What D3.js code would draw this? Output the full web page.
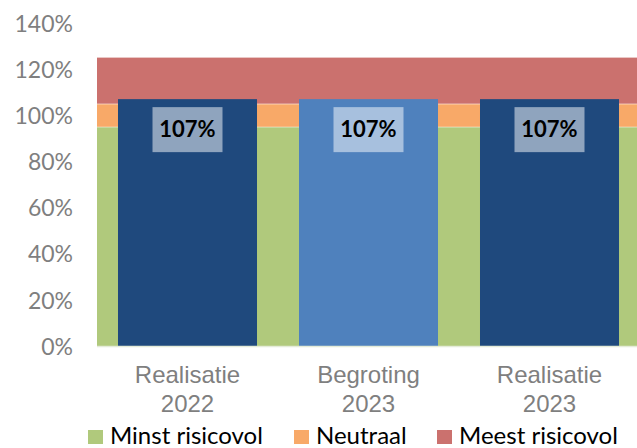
<!DOCTYPE html>
<html>
<head>
<meta charset="utf-8">
<script src="https://cdn.jsdelivr.net/npm/d3@7"></script>
<style>
  html, body { margin: 0; padding: 0; background: #fff; }
  svg { display: block; font-family: Lato, "Open Sans", sans-serif; }
</style>
</head>
<body>
<svg id="chart" width="637" height="448"></svg>
<script>
// Categories along the x axis (two-line labels)
const categories = ["Realisatie 2022", "Begroting 2023", "Realisatie 2023"];
const categoryLines = [["Realisatie", "2022"], ["Begroting", "2023"], ["Realisatie", "2023"]];

// Coverage ratio per category (%)
const ratioValues = [107, 107, 107];
const barColors = ["#1F497D", "#4F81BD", "#1F497D"];

// Background risk zones, stacked from 0% upward (band sizes in %)
const zoneNames = ["Minst risicovol", "Neutraal", "Meest risicovol"];
const zoneSizes = [95, 10, 20];
const zoneColors = ["#B0C97C", "#F8A968", "#CB716E"];

// Y axis ticks
const yTicks = [0, 20, 40, 60, 80, 100, 120, 140];

const svg = d3.select("#chart");
const plotLeft = 97, plotRight = 640, plotTop = 23, plotBottom = 346;

const x = d3.scaleBand()
  .domain(categories)
  .range([plotLeft, plotRight])
  .paddingInner(0.232)
  .paddingOuter(0.116);

const y = d3.scaleLinear().domain([0, 140]).range([plotBottom, plotTop]);

// Stacked zone bands spanning the whole plot width
const zoneRow = {};
zoneNames.forEach((n, i) => zoneRow[n] = zoneSizes[i]);
const stacked = d3.stack().keys(zoneNames)([zoneRow]);

svg.append("g")
  .selectAll("rect")
  .data(stacked)
  .join("rect")
  .attr("x", plotLeft)
  .attr("width", plotRight - plotLeft)
  .attr("y", d => y(d[0][1]))
  .attr("height", d => y(d[0][0]) - y(d[0][1]))
  .attr("fill", (d, i) => zoneColors[i]);

// Light separators between zones
svg.append("g")
  .selectAll("line")
  .data(stacked.slice(0, 2))
  .join("line")
  .attr("x1", plotLeft).attr("x2", plotRight)
  .attr("y1", d => y(d[0][1]) + 0.5).attr("y2", d => y(d[0][1]) + 0.5)
  .attr("stroke", "#ffffff").attr("stroke-opacity", 0.35);

// Ratio bars
svg.append("g")
  .selectAll("rect")
  .data(ratioValues)
  .join("rect")
  .attr("x", (d, i) => x(categories[i]))
  .attr("width", x.bandwidth())
  .attr("y", d => y(d))
  .attr("height", d => y(0) - y(d))
  .attr("fill", (d, i) => barColors[i]);

// Baseline
svg.append("line")
  .attr("x1", plotLeft).attr("x2", plotRight)
  .attr("y1", y(0) + 0.5).attr("y2", y(0) + 0.5)
  .attr("stroke", "#E4EBD8").attr("stroke-width", 1.5);

// Value labels inside the top of each bar
const labels = svg.append("g")
  .selectAll("g")
  .data(ratioValues)
  .join("g")
  .attr("transform", (d, i) => `translate(${x(categories[i]) + x.bandwidth() / 2},${y(d) + 8})`);

labels.append("rect")
  .attr("x", -35).attr("width", 70)
  .attr("y", 0).attr("height", 45)
  .attr("fill", "#ffffff").attr("fill-opacity", 0.5);

labels.append("text")
  .attr("x", 0).attr("y", 30)
  .attr("text-anchor", "middle")
  .attr("font-size", 22)
  .attr("font-weight", "bold")
  .attr("fill", "#000")
  .text(d => d + "%");

// Y axis (labels only)
const yAxis = svg.append("g")
  .attr("transform", `translate(${plotLeft - 24},0)`)
  .call(d3.axisLeft(y).tickValues(yTicks).tickFormat(d => d + "%").tickSize(0).tickPadding(0));
yAxis.select(".domain").remove();
yAxis.selectAll("text")
  .attr("font-family", "Lato, 'Open Sans', sans-serif")
  .attr("font-size", 23)
  .attr("fill", "#7F7F7F")
  .attr("dy", "0.36em");

// X axis (two-line category labels)
const xAxis = svg.append("g")
  .attr("transform", `translate(0,${y(0)})`)
  .call(d3.axisBottom(x).tickSize(0).tickFormat(() => ""));
xAxis.select(".domain").remove();
xAxis.selectAll(".tick text").remove();
xAxis.selectAll(".tick")
  .append("text")
  .attr("text-anchor", "middle")
  .attr("font-size", 24)
  .attr("fill", "#7F7F7F")
  .selectAll("tspan")
  .data((d, i) => categoryLines[i])
  .join("tspan")
  .attr("x", 0)
  .attr("y", (d, j) => 37 + j * 29)
  .text(d => d);

// Legend
const legendX = [88, 294, 437];
const legend = svg.append("g")
  .selectAll("g")
  .data(zoneNames)
  .join("g")
  .attr("transform", (d, i) => `translate(${legendX[i]},430)`);

legend.append("rect")
  .attr("width", 15).attr("height", 14)
  .attr("fill", (d, i) => zoneColors[i]);

legend.append("text")
  .attr("x", 22).attr("y", 14)
  .attr("font-size", 24)
  .attr("fill", "#000")
  .text(d => d);
</script>
</body>
</html>
